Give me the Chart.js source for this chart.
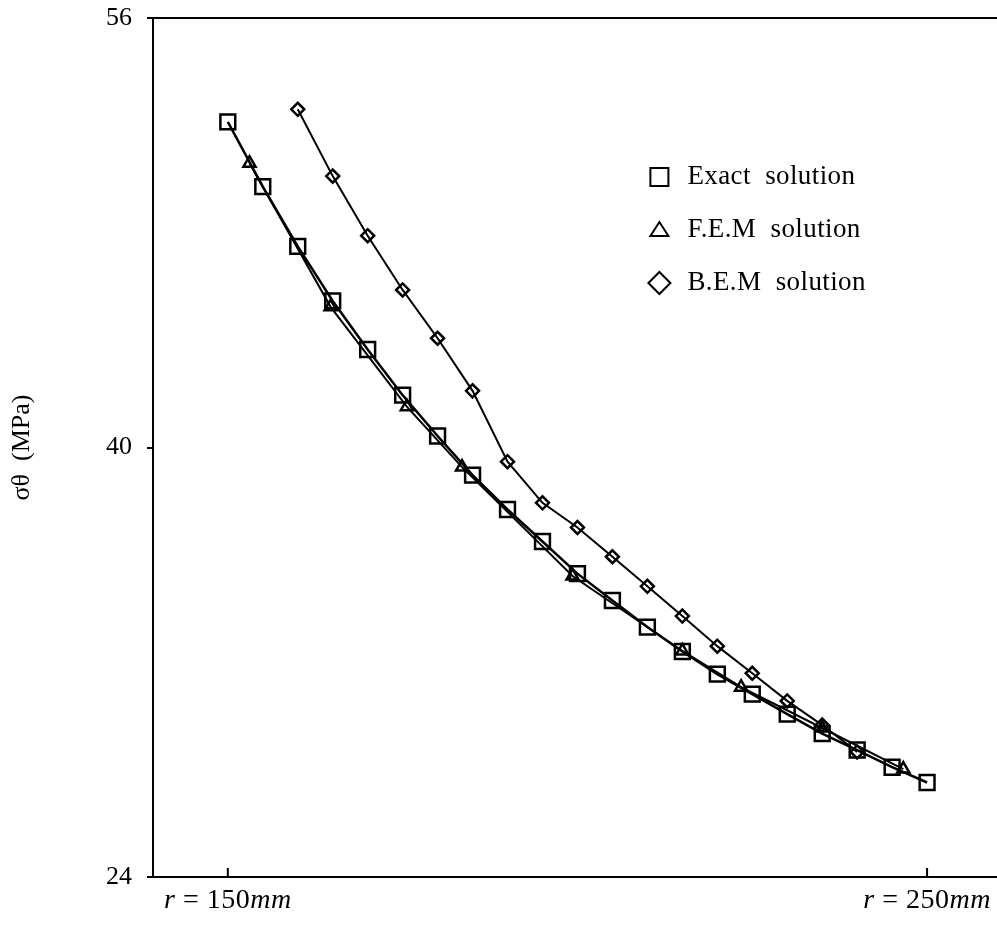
<!DOCTYPE html>
<html>
<head>
<meta charset="utf-8">
<script src="https://cdn.jsdelivr.net/npm/chart.js@4.4.0/dist/chart.umd.min.js"></script>
<style>
  body { margin: 0; background: #fff; }
  #wrap { width: 997px; height: 928px; }
</style>
</head>
<body>
<div id="wrap"><canvas id="myChart" width="997" height="928"></canvas></div>
<script>
// radius r (mm) and hoop stress sigma_theta (MPa)
const exactR = [150, 155, 160, 165, 170, 175, 180, 185, 190, 195, 200, 205, 210, 215, 220, 225, 230, 235, 240, 245, 250];
const exactS = [52.13, 49.72, 47.49, 45.46, 43.65, 41.95, 40.43, 38.97, 37.69, 36.50, 35.30, 34.30, 33.31, 32.40, 31.56, 30.81, 30.07, 29.34, 28.73, 28.09, 27.52];

const femR = [153.1, 164.7, 175.6, 183.5, 199.3, 215.0, 223.4, 235.0, 246.6];
const femS = [50.59, 45.24, 41.52, 39.27, 35.21, 32.42, 31.07, 29.55, 28.02];

const bemR = [160, 165, 170, 175, 180, 185, 190, 195, 200, 205, 210, 215, 220, 225, 230, 235, 240];
const bemS = [52.60, 50.11, 47.89, 45.87, 44.07, 42.11, 39.47, 37.94, 37.02, 35.93, 34.83, 33.72, 32.60, 31.59, 30.56, 29.66, 28.66];

const seriesNames = ['Exact  solution', 'F.E.M  solution', 'B.E.M  solution'];
const yTicks = [24, 40, 56];
const xTicks = [150, 250];
const xTickLabels = ['r = 150mm', 'r = 250mm'];

const SERIF = "'Liberation Serif', 'DejaVu Serif', serif";

function pts(xs, ys) {
  return xs.map((x, i) => ({ x: x, y: ys[i] }));
}

// x labels with italic r and mm, plus small inward tick marks
const xLabelPlugin = {
  id: 'xLabels',
  afterDraw(chart) {
    const ctx = chart.ctx;
    const sx = chart.scales.x;
    const bottom = chart.chartArea.bottom;
    ctx.save();
    ctx.strokeStyle = '#000';
    ctx.lineWidth = 2;
    ctx.fillStyle = '#000';
    ctx.textBaseline = 'middle';
    ctx.letterSpacing = '0.5px';
    xTicks.forEach((v, i) => {
      const px = sx.getPixelForValue(v);
      ctx.beginPath();
      ctx.moveTo(px, bottom);
      ctx.lineTo(px, bottom - 9);
      ctx.stroke();
      const m = xTickLabels[i].match(/^(r)(.*?\d+)(mm)$/);
      const parts = [[m[1], 'italic'], [m[2], 'normal'], [m[3], 'italic']];
      let total = 0;
      parts.forEach(p => { ctx.font = p[1] + ' 28px ' + SERIF; total += ctx.measureText(p[0]).width; });
      let cx = px - total / 2;
      parts.forEach(p => {
        ctx.font = p[1] + ' 28px ' + SERIF;
        ctx.textAlign = 'left';
        ctx.fillText(p[0], cx, bottom + 24);
        cx += ctx.measureText(p[0]).width;
      });
    });
    ctx.restore();
  }
};

// legend drawn inside the plot area
const legendPlugin = {
  id: 'boxLegend',
  afterDraw(chart) {
    const ctx = chart.ctx;
    const area = chart.chartArea;
    const mx = area.left + (area.right - area.left) * 0.6;
    const y0 = area.top + 159;
    const gap = 53;
    ctx.save();
    ctx.strokeStyle = '#000';
    ctx.fillStyle = '#000';
    ctx.lineWidth = 2;
    ctx.font = '27px ' + SERIF;
    ctx.letterSpacing = '0.4px';
    ctx.textBaseline = 'middle';
    ctx.textAlign = 'left';
    chart.data.datasets.forEach((ds, i) => {
      const y = y0 + gap * i;
      ctx.beginPath();
      if (ds.pointStyle === 'rect') {
        ctx.rect(mx - 9, y - 9, 18, 18);
      } else if (ds.pointStyle === 'triangle') {
        ctx.moveTo(mx, y - 8);
        ctx.lineTo(mx + 9, y + 6);
        ctx.lineTo(mx - 9, y + 6);
        ctx.closePath();
      } else {
        ctx.moveTo(mx, y - 11);
        ctx.lineTo(mx + 11, y);
        ctx.lineTo(mx, y + 11);
        ctx.lineTo(mx - 11, y);
        ctx.closePath();
      }
      ctx.stroke();
      ctx.fillText(ds.label, mx + 28, y);
    });
    ctx.restore();
  }
};

const config = {
  type: 'line',
  data: {
    datasets: [
      {
        label: seriesNames[0],
        data: pts(exactR, exactS),
        borderColor: '#000',
        borderWidth: 2.5,
        pointStyle: 'rect',
        pointRadius: 10.5,
        pointBorderWidth: 2.5,
        pointBorderColor: '#000',
        pointBackgroundColor: 'rgba(0,0,0,0)',
        tension: 0
      },
      {
        label: seriesNames[1],
        data: pts(femR, femS),
        borderColor: '#000',
        borderWidth: 2,
        pointStyle: 'triangle',
        pointRadius: 7,
        pointBorderWidth: 2.5,
        pointBorderColor: '#000',
        pointBackgroundColor: 'rgba(0,0,0,0)',
        tension: 0
      },
      {
        label: seriesNames[2],
        data: pts(bemR, bemS),
        borderColor: '#000',
        borderWidth: 2,
        pointStyle: 'rectRot',
        pointRadius: 6.5,
        pointBorderWidth: 2.5,
        pointBorderColor: '#000',
        pointBackgroundColor: 'rgba(0,0,0,0)',
        tension: 0
      }
    ]
  },
  options: {
    responsive: false,
    animation: false,
    layout: { autoPadding: false, padding: { top: 18, right: 0, bottom: 0, left: 0 } },
    plugins: {
      legend: { display: false },
      tooltip: { enabled: false }
    },
    scales: {
      x: {
        type: 'linear',
        min: 139.3,
        max: 260,
        afterFit(scale) {
          scale.height = 51;
          scale.paddingLeft = 0;
          scale.paddingRight = 0;
        },
        afterBuildTicks(scale) { scale.ticks = xTicks.map(v => ({ value: v })); },
        grid: { display: false, drawTicks: false },
        border: { display: true, color: '#000', width: 2 },
        ticks: { display: false }
      },
      y: {
        type: 'linear',
        min: 24,
        max: 56,
        afterFit(scale) {
          scale.width = 153;
          scale.paddingTop = 0;
          scale.paddingBottom = 0;
        },
        afterBuildTicks(scale) { scale.ticks = yTicks.map(v => ({ value: v })); },
        grid: {
          drawOnChartArea: true,
          color: (c) => (c.tick && c.tick.value === 56 ? '#000' : 'rgba(0,0,0,0)'),
          lineWidth: 2,
          tickColor: '#000',
          tickLength: 6,
          tickWidth: 2
        },
        border: { display: true, color: '#000', width: 2 },
        ticks: {
          padding: 15,
          color: '#000',
          font: { family: SERIF, size: 26 }
        },
        title: {
          display: true,
          text: 'σθ  (MPa)',
          color: '#000',
          font: { family: SERIF, size: 26, weight: 'normal' },
          padding: { top: 7, bottom: 0 }
        }
      }
    }
  },
  plugins: [xLabelPlugin, legendPlugin]
};

const myChart = new Chart(document.getElementById('myChart'), config);
</script>
</body>
</html>
